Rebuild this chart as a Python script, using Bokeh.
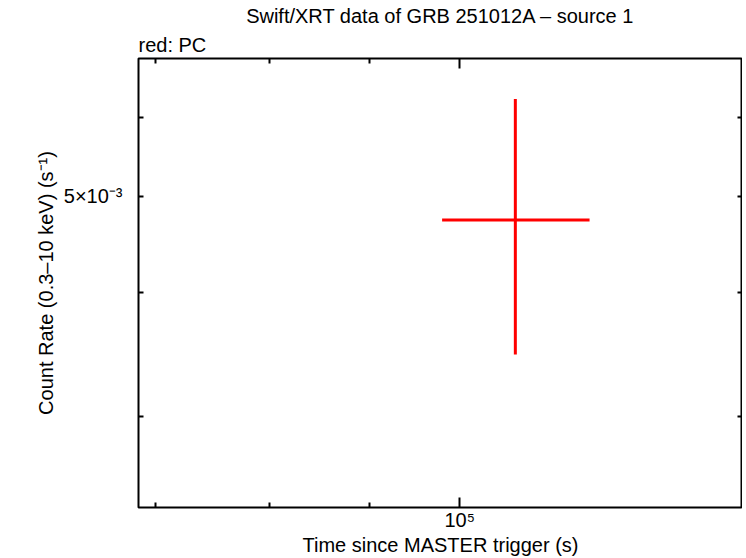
from bokeh.plotting import figure
from bokeh.models import Range1d, FixedTicker, LogAxis, Title, ColumnDataSource
from bokeh.embed import file_html
from bokeh.resources import INLINE

# data (PC mode)
t_mid = [106740.0]
t_lo = [97960.0]
t_hi = [116440.0]
rate = [4.734e-3]
rate_lo = [3.464e-3]
rate_hi = [6.27e-3]

x_major = [1e5]
x_minor = [7e4, 8e4, 9e4]
x_labels = {1e5: "10⁵"}
y_major = [5e-3]
y_minor = [3e-3, 4e-3, 6e-3]
y_labels = {5e-3: "5×10⁻³"}

FONT = "Liberation Sans"

p = figure(frame_width=604, frame_height=449, x_axis_type="log", y_axis_type="log",
           x_range=Range1d(68630, 139300), y_range=Range1d(2.429e-3, 6.886e-3),
           output_backend="svg", toolbar_location=None, title=None,
           min_border_left=138, min_border_right=0, min_border_top=50, min_border_bottom=40)
p.background_fill_color = "white"
p.border_fill_color = "white"
p.outline_line_color = "black"
p.outline_line_width = 2
p.xgrid.visible = False
p.ygrid.visible = False

src = ColumnDataSource(dict(t=t_mid, tlo=t_lo, thi=t_hi, r=rate, rlo=rate_lo, rhi=rate_hi))
p.segment(x0="tlo", x1="thi", y0="r", y1="r", source=src, line_color="#ff0000", line_width=3)
p.segment(x0="t", x1="t", y0="rlo", y1="rhi", source=src, line_color="#ff0000", line_width=3)

def style_x(ax, labels):
    ax.ticker = FixedTicker(ticks=x_major, minor_ticks=x_minor)
    ax.major_tick_in = 10
    ax.major_tick_out = 0
    ax.minor_tick_in = 5
    ax.minor_tick_out = 0
    ax.major_tick_line_width = 2
    ax.minor_tick_line_width = 2
    ax.axis_line_color = None
    if labels:
        ax.major_label_overrides = x_labels
        ax.major_label_text_font = FONT
        ax.major_label_text_font_size = "20px"
        ax.major_label_text_color = "black"
        ax.major_label_standoff = 1
        ax.axis_label = "Time since MASTER trigger (s)"
        ax.axis_label_text_font = FONT
        ax.axis_label_text_font_size = "20px"
        ax.axis_label_text_font_style = "normal"
        ax.axis_label_text_color = "black"
        ax.axis_label_standoff = 0
    else:
        ax.major_label_text_font_size = "0px"
        ax.major_label_text_color = None
        ax.major_label_standoff = 0

def style_y(ax, labels):
    ax.ticker = FixedTicker(ticks=y_major, minor_ticks=y_minor)
    ax.major_tick_in = 5
    ax.major_tick_out = 0
    ax.minor_tick_in = 5
    ax.minor_tick_out = 0
    ax.major_tick_line_width = 2
    ax.minor_tick_line_width = 2
    ax.axis_line_color = None
    if labels:
        ax.major_label_overrides = y_labels
        ax.major_label_text_font = FONT
        ax.major_label_text_font_size = "20px"
        ax.major_label_text_color = "black"
        ax.major_label_standoff = 16
        ax.axis_label = "Count Rate (0.3–10 keV) (s⁻¹)"
        ax.axis_label_text_font = FONT
        ax.axis_label_text_font_size = "20px"
        ax.axis_label_text_font_style = "normal"
        ax.axis_label_text_color = "black"
        ax.axis_label_standoff = 4
    else:
        ax.major_label_text_font_size = "0px"
        ax.major_label_text_color = None
        ax.major_label_standoff = 0

style_x(p.xaxis[0], True)
style_y(p.yaxis[0], True)

top = LogAxis()
style_x(top, False)
p.add_layout(top, "above")
right = LogAxis()
style_y(right, False)
p.add_layout(right, "right")

p.add_layout(Title(text="red: PC", align="left", text_font=FONT, text_font_size="20px",
                   text_font_style="normal", text_color="black", standoff=5), "above")
p.add_layout(Title(text="Swift/XRT data of GRB 251012A – source 1", align="center", text_font=FONT,
                   text_font_size="20px", text_font_style="normal", text_color="black",
                   standoff=5), "above")

open("out.html", "w").write(file_html(p, INLINE))
